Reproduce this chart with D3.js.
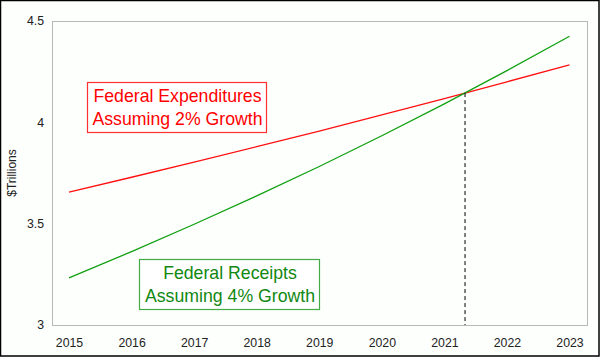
<!DOCTYPE html>
<html><head><meta charset="utf-8">
<script src="https://cdn.jsdelivr.net/npm/d3@7"></script>
<style>html,body{margin:0;padding:0;background:#fff}svg{display:block}</style>
</head><body>
<svg id="c" width="600" height="357"></svg>
<script>
const years = [2015, 2016, 2017, 2018, 2019, 2020, 2021, 2022, 2023];
const expenditures = [3.656, 3.729, 3.804, 3.880, 3.957, 4.037, 4.117, 4.200, 4.283];
const receipts = [3.233, 3.362, 3.497, 3.637, 3.782, 3.934, 4.091, 4.255, 4.425];
const yTicks = [3, 3.5, 4, 4.5];
const yTickLabels = ["3", "3.5", "4", "4.5"];
const crossYear = 2021.33;
const expLabel = ["Federal Expenditures", "Assuming 2% Growth"];
const recLabel = ["Federal Receipts", "Assuming 4% Growth"];

const svg = d3.select("#c");
const W = 600, H = 357;
const plot = {l: 52, t: 21, r: 587, b: 325};
const font = "'Liberation Sans', Arial, sans-serif";

svg.append("rect").attr("x", 0.5).attr("y", 0.5).attr("width", W - 1.5).attr("height", H - 1.5)
  .attr("fill", "#fdfffd").attr("stroke", "#000").attr("stroke-width", 1.5);

const x = d3.scaleLinear().domain([2015, 2023]).range([69, 569.5]);
const y = d3.scaleLinear().domain([3, 4.5]).range([plot.b, plot.t]);

svg.append("rect").attr("x", plot.l + 0.5).attr("y", plot.t + 0.5)
  .attr("width", plot.r - plot.l).attr("height", plot.b - plot.t)
  .attr("fill", "#fdfffd").attr("stroke", "#b8b8b8").attr("stroke-width", 1);

const yAxis = d3.axisLeft(y).tickValues(yTicks).tickFormat((d, i) => yTickLabels[i]).tickSize(0).tickPadding(8);
const ya = svg.append("g").attr("transform", `translate(${plot.l},0)`).call(yAxis);
ya.select(".domain").remove();
ya.selectAll("text").attr("font-family", font).attr("font-size", 12.3).attr("fill", "#222");

const xAxis = d3.axisBottom(x).tickValues(years).tickFormat(d3.format("d")).tickSize(0).tickPadding(13);
const xa = svg.append("g").attr("transform", `translate(0,${plot.b})`).call(xAxis);
xa.select(".domain").remove();
xa.selectAll("text").attr("font-family", font).attr("font-size", 12.3).attr("fill", "#222");

svg.append("text").attr("transform", `translate(16,${(plot.t + plot.b) / 2}) rotate(-90)`)
  .attr("text-anchor", "middle").attr("font-family", font).attr("font-size", 12).attr("fill", "#222")
  .text("$Trillions");

const line = d3.line().x((d, i) => x(years[i])).y(d => y(d));
svg.append("path").datum(expenditures).attr("d", line).attr("fill", "none").attr("stroke", "#ff1010").attr("stroke-width", 1.3);
svg.append("path").datum(receipts).attr("d", line).attr("fill", "none").attr("stroke", "#10a010").attr("stroke-width", 1.3);

const i0 = 6;
const t = crossYear - years[i0];
const crossVal = expenditures[i0] + t * (expenditures[i0 + 1] - expenditures[i0]);
svg.append("line").attr("x1", x(crossYear)).attr("x2", x(crossYear))
  .attr("y1", y(crossVal)).attr("y2", plot.b)
  .attr("stroke", "#000").attr("stroke-width", 1).attr("stroke-dasharray", "4,3");

function labelBox(lines, bx, by, bw, bh, color, border) {
  svg.append("rect").attr("x", bx + 0.5).attr("y", by + 0.5).attr("width", bw).attr("height", bh)
    .attr("fill", "#fff").attr("stroke", border).attr("stroke-width", 1.2);
  lines.forEach((s, i) => {
    svg.append("text").attr("x", bx + bw / 2 + 1).attr("y", by + 20 + i * 23)
      .attr("text-anchor", "middle").attr("font-family", font).attr("font-size", 17.7)
      .attr("fill", color).text(s);
  });
}
labelBox(expLabel, 87, 82, 179, 50, "#ff0000", "#ff3030");
labelBox(recLabel, 139, 259, 180, 50, "#118811", "#44aa44");
</script>
</body></html>
